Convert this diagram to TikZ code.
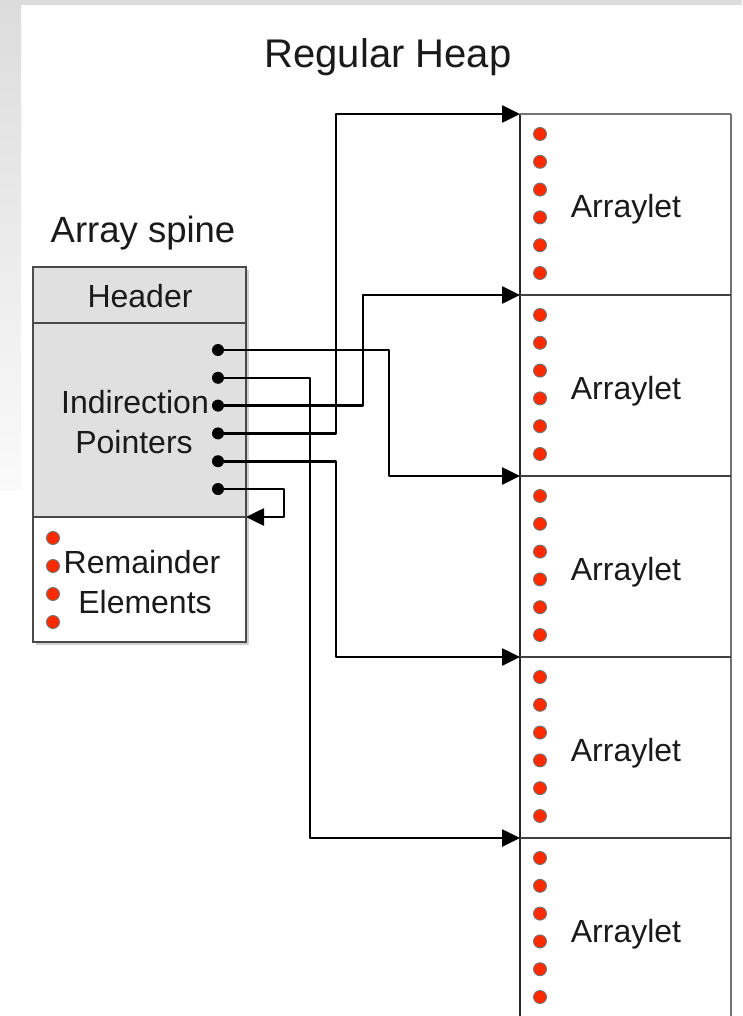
\documentclass[tikz,border=0pt]{standalone}
\usepackage{fontspec}
\setmainfont{Liberation Sans}
\usetikzlibrary{arrows.meta}
\definecolor{boxgray}{HTML}{E0E0E0}
\definecolor{edge}{HTML}{4A4A4A}
\definecolor{reddot}{HTML}{FF2A00}
\definecolor{txt}{HTML}{1A1A1A}
\definecolor{bggray}{HTML}{DCDCDC}
\tikzset{
  lbl/.style={font=\fontsize{32}{40}\selectfont, text=txt, inner sep=0pt, anchor=base},
  heading/.style={font=\fontsize{40}{46}\selectfont, text=txt, inner sep=0pt, anchor=base},
  spinepart/.style={draw=edge, line width=2.2pt, minimum width=213pt, outer sep=0pt, inner sep=0pt},
  cellbox/.style={minimum width=211pt, minimum height=181pt, outer sep=0pt, inner sep=0pt},
  ptr/.style={circle, fill=black, minimum size=12pt, inner sep=0pt},
  elem/.style={circle, fill=reddot, draw=black!55, line width=0.9pt, minimum size=13pt, inner sep=0pt},
  wire/.style={draw=black, line width=2.6pt, line join=round},
  arrowend/.style={-{Triangle[length=18pt,width=17pt]}},
}
\begin{document}
\begin{tikzpicture}[x=1pt,y=-1pt]
\useasboundingbox (0,0) rectangle (742,1016);
% background
\fill[white] (0,0) rectangle (742,1016);
\fill[bggray] (0,0) rectangle (742,5);
\shade[top color=bggray, bottom color=black!2] (0,0) rectangle (21,490);
% array spine
\fill[black!18] (36,270) rectangle (249,645);
\node[spinepart, fill=boxgray, minimum height=56pt] (hdr) at (139.5,295) {};
\node[spinepart, fill=boxgray, minimum height=194pt] (ind) at (139.5,420) {};
\node[spinepart, fill=white, minimum height=125pt] (rem) at (139.5,579.5) {};
\node[lbl] (hdrtxt) at (140,307) {Header};
\node[lbl] (indtxta) at (135,413) {Indirection};
\node[lbl] (indtxtb) at (134,453) {Pointers};
\node[lbl] (remtxta) at (142,573) {Remainder};
\node[lbl] (remtxtb) at (145,613) {Elements};
\foreach \k in {0,...,3} \node[elem] (r\k) at (53,{538+28*\k}) {};
% pointers
\foreach \i in {1,...,6} \node[ptr] (p\i) at (218,{350+27.8*(\i-1)}) {};
% arraylets
\foreach \i in {1,...,5} {
  \node[cellbox] (a\i) at (625.5,{204.5+181*(\i-1)}) {};
  \node[lbl] (t\i) at (626,{218+181*(\i-1)}) {Arraylet};
  \foreach \k in {0,...,5} \node[elem] (e\i\k) at (540,{134+181*(\i-1)+27.8*\k}) {};
}
\draw[line width=1.8pt, black!85] (a1.north west) -- (a5.south west);
\draw[line width=2.6pt, black!55] (a1.north east) -- (a5.south east);
\foreach \i in {2,...,5} \draw[line width=2pt, black!75] (a\i.north west) -- (a\i.north east);
\draw[line width=2.4pt, black!55] (a1.north west) -- (a1.north east);
% titles
\node[heading] (heap) at (388,68) {Regular Heap};
\node[heading, font=\fontsize{36.5}{42}\selectfont] (spine) at (143,243) {Array spine};
% wires
\draw[wire, arrowend] (p1) -- ++(171,0) |- (a3.north west);
\draw[wire, arrowend] (p2) -- ++(92,0) |- (a5.north west);
\draw[wire, arrowend] (p3) -- ++(145,0) |- (a2.north west);
\draw[wire, arrowend] (p4) -- ++(118,0) |- (a1.north west);
\draw[wire, arrowend] (p5) -- ++(118,0) |- (a4.north west);
\draw[wire, arrowend] (p6) -- ++(66,0) |- (ind.south east);
\end{tikzpicture}
\end{document}
